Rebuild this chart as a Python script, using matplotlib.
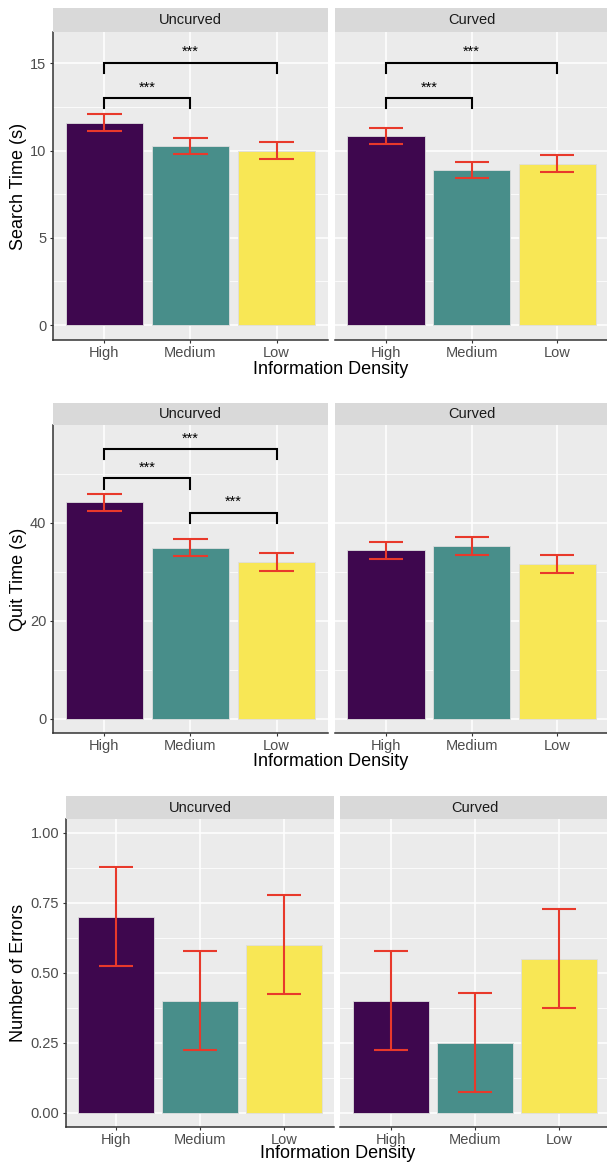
import matplotlib
matplotlib.use("Agg")
import matplotlib.pyplot as plt
import numpy as np

plt.rcParams['font.family'] = ['Liberation Sans', 'DejaVu Sans']

# Daten
density = ["High", "Medium", "Low"]
conditions = ["Uncurved", "Curved"]
bar_colors = ["#3E074E", "#488E8A", "#F8E755"]

search_uncurved = [11.60, 10.25, 10.00]
search_uncurved_se = [0.47, 0.47, 0.47]
search_curved = [10.83, 8.88, 9.25]
search_curved_se = [0.47, 0.45, 0.47]

quit_uncurved = [44.1, 34.9, 32.0]
quit_uncurved_se = [1.75, 1.80, 1.80]
quit_curved = [34.3, 35.3, 31.5]
quit_curved_se = [1.80, 1.85, 1.80]

errors_uncurved = [0.70, 0.40, 0.60]
errors_uncurved_se = [0.177, 0.177, 0.176]
errors_curved = [0.40, 0.25, 0.55]
errors_curved_se = [0.177, 0.178, 0.177]

# Signifikanz-Klammern: (von, bis, Hoehe)
search_sig_uncurved = [(0, 1, 13.02), (0, 2, 15.05)]
search_sig_curved = [(0, 1, 13.02), (0, 2, 15.05)]
quit_sig_uncurved = [(0, 2, 55.0), (0, 1, 49.0), (1, 2, 42.0)]
quit_sig_curved = []

W, H = 607, 1165
fig = plt.figure(figsize=(W / 100, H / 100), dpi=100)

def px_axes(x0, x1, y0, y1):
    return fig.add_axes([x0 / W, 1 - y1 / H, (x1 - x0) / W, (y1 - y0) / H])

rows = [
    dict(means=[search_uncurved, search_curved], ses=[search_uncurved_se, search_curved_se],
         sigs=[search_sig_uncurved, search_sig_curved], ylim=(-0.86, 16.8),
         major=[0, 5, 10, 15], minor=[2.5, 7.5, 12.5], labels=["0", "5", "10", "15"],
         ylabel="Search Time (s)", strip=(8, 32), panel_bottom=340,
         xs=[(52.6, 328.4), (334.6, 608.7)], xtitle_y=370),
    dict(means=[quit_uncurved, quit_curved], ses=[quit_uncurved_se, quit_curved_se],
         sigs=[quit_sig_uncurved, quit_sig_curved], ylim=(-2.94, 59.9),
         major=[0, 20, 40], minor=[10, 30, 50], labels=["0", "20", "40"],
         ylabel="Quit Time (s)", strip=(403, 425), panel_bottom=733,
         xs=[(52.6, 328.4), (334.6, 608.7)], xtitle_y=762),
    dict(means=[errors_uncurved, errors_curved], ses=[errors_uncurved_se, errors_curved_se],
         sigs=[[], []], ylim=(-0.0515, 1.0487),
         major=[0, 0.25, 0.5, 0.75, 1.0], minor=[0.125, 0.375, 0.625, 0.875],
         labels=["0.00", "0.25", "0.50", "0.75", "1.00"],
         ylabel="Number of Errors", strip=(796, 819), panel_bottom=1127,
         xs=[(65.6, 334.4), (340.3, 609.1)], xtitle_y=1154),
]

x = np.arange(len(density))
err_col = "#E8392B"
axis_col = "#333333"

for row in rows:
    s0, s1 = row["strip"]
    for k, cond in enumerate(conditions):
        x0, x1 = row["xs"][k]
        ax = px_axes(x0, x1, s1, row["panel_bottom"])
        ax.set_facecolor("#EBEBEB")
        ax.set_xlim(-0.6, 2.6)
        ax.set_ylim(*row["ylim"])
        ax.set_yticks(row["major"])
        ax.set_yticks(row["minor"], minor=True)
        ax.set_xticks(x)
        ax.set_axisbelow(True)
        ax.grid(which="major", color="white", lw=1.1)
        ax.grid(which="minor", axis="y", color="white", lw=0.55)
        for sp in ["top", "right"]:
            ax.spines[sp].set_visible(False)
        ax.spines["bottom"].set_color(axis_col)
        ax.spines["bottom"].set_linewidth(1.1)
        ax.tick_params(which="minor", length=0)
        ax.tick_params(which="major", length=2.5, width=0.8, color=axis_col,
                       labelsize=10.5, labelcolor="#4D4D4D", pad=2)
        ax.set_xticklabels(density)
        if k == 0:
            ax.spines["left"].set_color(axis_col)
            ax.spines["left"].set_linewidth(1.1)
            ax.set_yticklabels(row["labels"])
        else:
            ax.spines["left"].set_visible(False)
            ax.tick_params(axis="y", which="both", length=0, labelleft=False)

        m = np.array(row["means"][k])
        se = np.array(row["ses"][k])
        ax.bar(x, m, width=0.9, color=bar_colors, edgecolor="#dedede", linewidth=0.6, zorder=2)
        ax.vlines(x, m - se, m + se, color=err_col, lw=1.5, zorder=3)
        ax.hlines(m - se, x - 0.2, x + 0.2, color=err_col, lw=1.5, zorder=3)
        ax.hlines(m + se, x - 0.2, x + 0.2, color=err_col, lw=1.5, zorder=3)

        tip = 0.033 * (row["ylim"][1] - row["ylim"][0])
        for i, j, yb in row["sigs"][k]:
            ax.plot([i, i, j, j], [yb - tip, yb, yb, yb - tip], color="black",
                    lw=1.5, solid_joinstyle="miter", zorder=4)
            ax.annotate("***", xy=((i + j) / 2, yb), xytext=(0, 2.5),
                        textcoords="offset points", ha="center", va="bottom",
                        fontsize=10.5, color="black")

        # Facetten-Streifen
        sax = px_axes(x0, x1, s0, s1)
        sax.set_facecolor("#D9D9D9")
        sax.set_xticks([])
        sax.set_yticks([])
        for sp in sax.spines.values():
            sp.set_visible(False)
        sax.text(0.5, 0.5, cond, ha="center", va="center", fontsize=10.5,
                 color="#1A1A1A", transform=sax.transAxes)

    # Achsentitel
    xl = (row["xs"][0][0] + row["xs"][1][1]) / 2
    fig.text(xl / W, 1 - row["xtitle_y"] / H, "Information Density", ha="center",
             va="center", fontsize=13, color="black")
    yc = (s1 + row["panel_bottom"]) / 2
    fig.text(19 / W, 1 - yc / H, row["ylabel"], ha="center", va="center",
             rotation=90, fontsize=13, color="black")

plt.savefig("out.png", dpi=100)
